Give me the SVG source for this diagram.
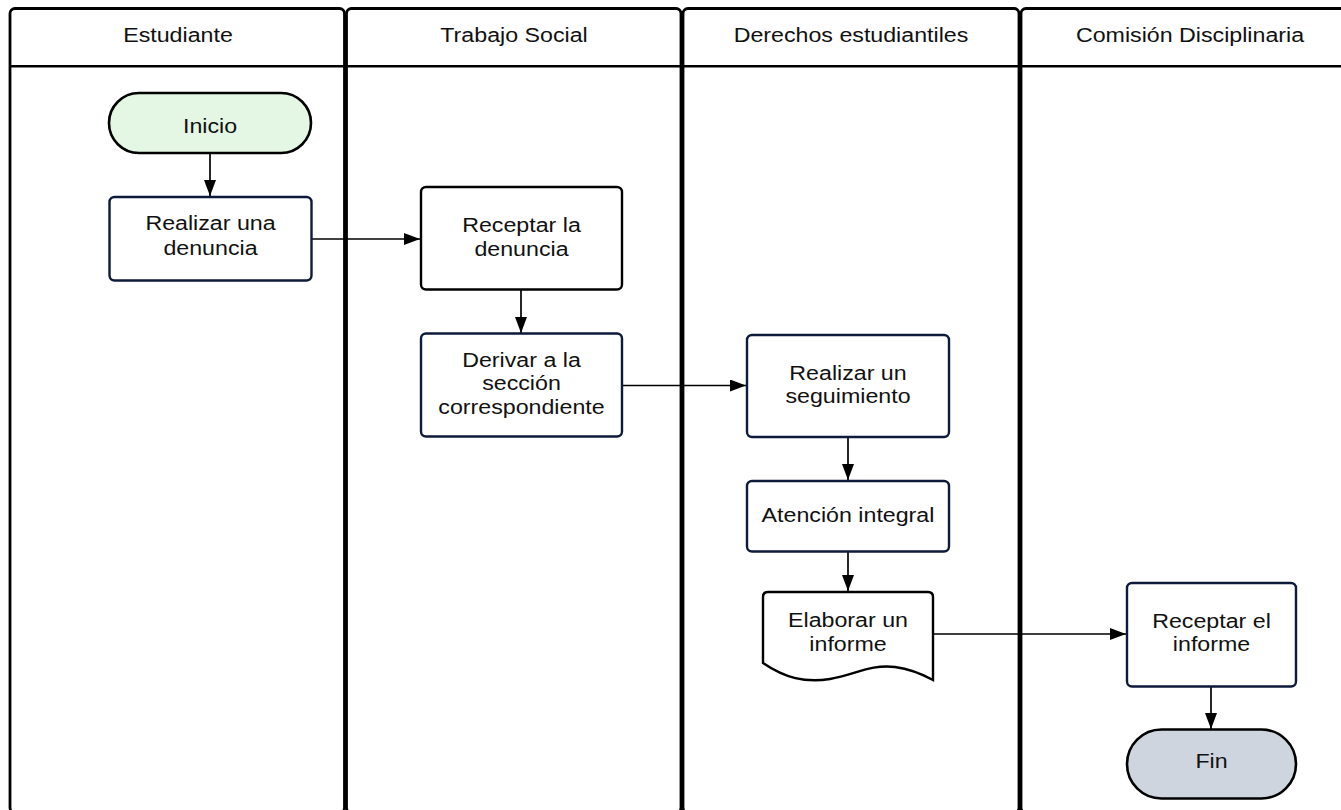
<svg xmlns="http://www.w3.org/2000/svg" width="1341" height="810" viewBox="0 0 1341 810">
<defs>
<marker id="ah" viewBox="0 0 16 12" refX="16" refY="6" markerWidth="16" markerHeight="12" markerUnits="userSpaceOnUse" orient="auto">
<path d="M0,0 L16,6 L0,12 Z" fill="#000"/>
</marker>
<style>
.lane{fill:#fff;stroke:#000;stroke-width:2.8}
.hdr{stroke:#000;stroke-width:2.6}
.t{font-family:"Liberation Sans",Arial,sans-serif;font-size:19.5px;fill:#111;text-anchor:middle}
.box{fill:#fff;stroke:#0e1a3a;stroke-width:2.4}
.boxk{fill:#fff;stroke:#000;stroke-width:2.4}
.start{fill:#e4f7e4;stroke:#000;stroke-width:2.6}
.end{fill:#cfd5de;stroke:#000;stroke-width:2.6}
.con{fill:none;stroke:#000;stroke-width:1.7;marker-end:url(#ah)}
</style>
</defs>
<rect width="1341" height="810" fill="#fff"/>
<g id="lanes">
<g id="lane-estudiante">
<rect class="lane" x="10" y="8.5" width="334.5" height="804" rx="5"/>
<line class="hdr" x1="10" y1="66.3" x2="344.5" y2="66.3"/>
<text class="t" transform="matrix(1.19 0 0 1 178 42)">Estudiante</text>
</g>
<g id="lane-trabajo">
<rect class="lane" x="346.5" y="8.5" width="334.5" height="804" rx="5"/>
<line class="hdr" x1="346.5" y1="66.3" x2="681" y2="66.3"/>
<text class="t" transform="matrix(1.19 0 0 1 514 42)">Trabajo Social</text>
</g>
<g id="lane-derechos">
<rect class="lane" x="683" y="8.5" width="336" height="804" rx="5"/>
<line class="hdr" x1="683" y1="66.3" x2="1019" y2="66.3"/>
<text class="t" transform="matrix(1.19 0 0 1 851 42)">Derechos estudiantiles</text>
</g>
<g id="lane-comision">
<rect class="lane" x="1021" y="8.5" width="345" height="804" rx="5"/>
<line class="hdr" x1="1021" y1="66.3" x2="1366" y2="66.3"/>
<text class="t" transform="matrix(1.19 0 0 1 1190 42)">Comisión Disciplinaria</text>
</g>
</g>
<g id="connectors">
<line class="con" x1="210" y1="153" x2="210" y2="196"/>
<line class="con" x1="311" y1="239" x2="420" y2="239"/>
<line class="con" x1="521" y1="289.5" x2="521" y2="333"/>
<line class="con" x1="622" y1="385.5" x2="746" y2="385.5"/>
<line class="con" x1="848" y1="437" x2="848" y2="480"/>
<line class="con" x1="848" y1="551.5" x2="848" y2="591"/>
<line class="con" x1="933" y1="634" x2="1126" y2="634"/>
<line class="con" x1="1211" y1="686.5" x2="1211" y2="729"/>
</g>
<g id="n-inicio">
<rect class="start" x="109" y="93" width="202" height="60" rx="30"/>
<text class="t" transform="matrix(1.19 0 0 1 210 133)">Inicio</text>
</g>
<g id="n-realizar-denuncia">
<rect class="box" x="109.5" y="197" width="202" height="83.5" rx="5"/>
<text class="t" transform="matrix(1.19 0 0 1 210.5 230)"><tspan x="0">Realizar una</tspan><tspan x="0" dy="25">denuncia</tspan></text>
</g>
<g id="n-receptar-denuncia">
<rect class="boxk" x="421" y="187" width="201" height="102.5" rx="5"/>
<text class="t" transform="matrix(1.19 0 0 1 521.5 232)"><tspan x="0">Receptar la</tspan><tspan x="0" dy="24">denuncia</tspan></text>
</g>
<g id="n-derivar">
<rect class="box" x="421" y="333.5" width="201" height="103" rx="5"/>
<text class="t" transform="matrix(1.19 0 0 1 521.5 367)"><tspan x="0">Derivar a la</tspan><tspan x="0" dy="23.5">sección</tspan><tspan x="0" dy="23.5">correspondiente</tspan></text>
</g>
<g id="n-seguimiento">
<rect class="box" x="747" y="335" width="202" height="102" rx="5"/>
<text class="t" transform="matrix(1.19 0 0 1 848 380)"><tspan x="0">Realizar un</tspan><tspan x="0" dy="23">seguimiento</tspan></text>
</g>
<g id="n-atencion">
<rect class="box" x="747" y="481" width="202" height="70.5" rx="5"/>
<text class="t" transform="matrix(1.19 0 0 1 848 522)">Atención integral</text>
</g>
<g id="n-elaborar">
<path class="boxk" d="M763,663 V597 Q763,592 768,592 H928 Q933,592 933,597 V680 C922,674 910,669 895,667 C870,664 855,675 830,679 C805,683 785,678 763,663 Z"/>
<text class="t" transform="matrix(1.19 0 0 1 848 627)"><tspan x="0">Elaborar un</tspan><tspan x="0" dy="24.5">informe</tspan></text>
</g>
<g id="n-receptar-informe">
<rect class="box" x="1127" y="583" width="169" height="103.5" rx="5"/>
<text class="t" transform="matrix(1.19 0 0 1 1211.5 628)"><tspan x="0">Receptar el</tspan><tspan x="0" dy="23">informe</tspan></text>
</g>
<g id="n-fin">
<rect class="end" x="1127" y="729.5" width="169" height="69" rx="34.5"/>
<text class="t" transform="matrix(1.19 0 0 1 1211.5 768)">Fin</text>
</g>
</svg>
